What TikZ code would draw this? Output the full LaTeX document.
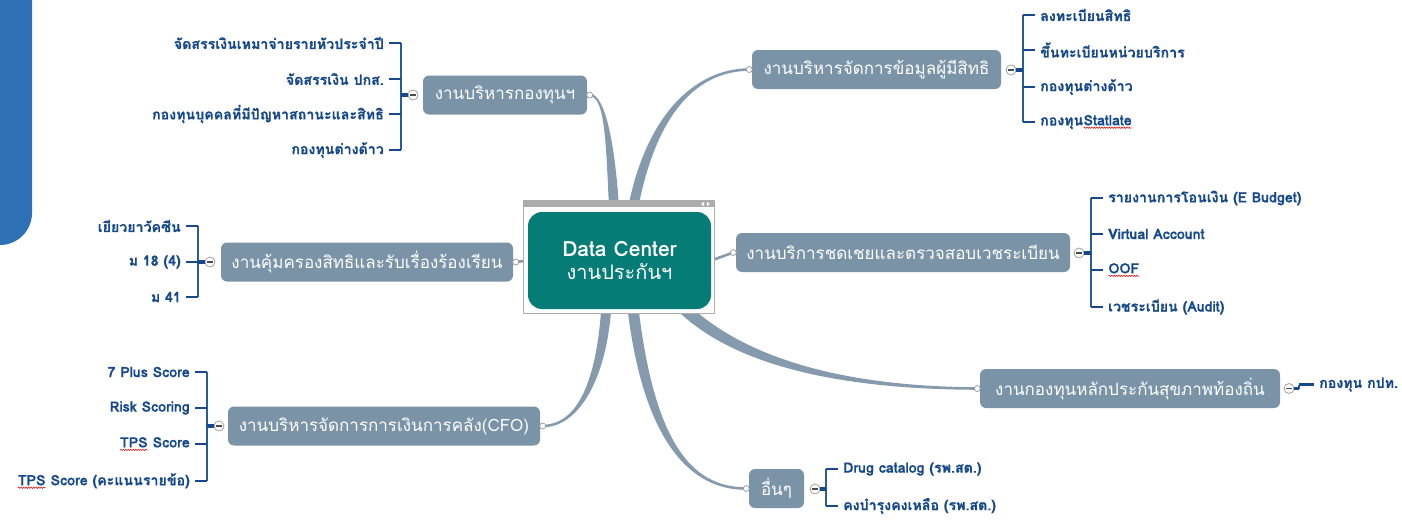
\documentclass[tikz,border=0pt]{standalone}
\usepackage{fontspec}
\setmainfont[Script=Thai]{Loma}
\newfontfamily\childfont[Script=Thai,FakeBold=0.6]{Loma}
\usetikzlibrary{calc,decorations.pathmorphing}
\pgfdeclarelayer{bg}\pgfdeclarelayer{mid}
\pgfsetlayers{bg,mid,main}
\definecolor{sideblue}{RGB}{46,112,182}
\definecolor{tealc}{RGB}{6,124,118}
\definecolor{branchfill}{RGB}{123,147,166}
\definecolor{linkcol}{RGB}{133,155,173}
\definecolor{childblue}{RGB}{22,72,140}
\definecolor{bracketblue}{RGB}{40,92,158}
\definecolor{framegrey}{RGB}{172,172,172}
\newcommand\sqw[1]{\tikz[baseline=(w.base)]{\node[inner sep=0pt,outer sep=0pt,anchor=base] (w) {#1};\draw[red!85!black,line width=0.5pt,decorate,decoration={snake,amplitude=0.7pt,segment length=2.5pt}] ([yshift=-2.5pt]w.base west) -- ([yshift=-2.5pt]w.base east);}}
\newcommand\taper[6]{%
 \begin{pgfonlayer}{bg}
 \path #1 coordinate (tA) #2 coordinate (tC) #3 coordinate (tD) #4 coordinate (tB);
 \path ($(tA)!#5!90:(tC)$) coordinate (tA1) ($(tA)!#5!-90:(tC)$) coordinate (tA2)
       ($(tB)!#6!-90:(tD)$) coordinate (tB1) ($(tB)!#6!90:(tD)$) coordinate (tB2);
 \fill[linkcol] (tA1) .. controls ($(tC)+(tA1)-(tA)$) and ($(tD)+(tB1)-(tB)$) .. (tB1) -- (tB2) .. controls ($(tD)+(tB2)-(tB)$) and ($(tC)+(tA2)-(tA)$) .. (tA2) -- cycle;
 \end{pgfonlayer}}
\tikzset{
 branch/.style={fill=branchfill, rounded corners=6pt, text=white, font=\fontsize{17}{19}\selectfont, minimum height=39pt, inner xsep=0pt},
 childl/.style={text=childblue, font=\childfont\bfseries\fontsize{14.2}{16}\selectfont, inner xsep=5pt, inner ysep=1pt, anchor=east},
 childr/.style={childl, anchor=west},
 collapse/.style={circle, draw=gray!75, fill=white, minimum size=10pt, inner sep=0pt, line width=0.8pt,
   path picture={\draw[black!70,line width=1.1pt] ([xshift=-2.6pt]path picture bounding box.center) -- ([xshift=2.6pt]path picture bounding box.center);}},
 dot/.style={circle, draw=gray!75, fill=white, minimum size=6pt, inner sep=0pt, line width=0.8pt},
 bracket/.style={draw=bracketblue, line width=1.6pt},
 cdash/.style={draw=childblue, line width=2.6pt},
 stem/.style={draw=childblue, line width=3.5pt},
 straightlink/.style={draw=linkcol, line width=2.6pt},
}
\begin{document}
\begin{tikzpicture}[x=1pt,y=-1pt]
\useasboundingbox (0,0) rectangle (1402,520);
% left blue tab
\fill[sideblue, rounded corners=32pt] (-60,-60) rectangle (32,245);

% centre
\node[fill=tealc, rounded corners=14pt, minimum width=183pt, minimum height=97pt, text=white, align=center, inner sep=0pt] (dc) at (619.5,260.5)
  {{\bfseries\fontsize{21}{26}\selectfont Data Center}\\[5pt]{\fontsize{20}{24}\selectfont งานประกันฯ}};
\begin{pgfonlayer}{mid}
\draw[framegrey, fill=white, line width=1.3pt] ($(dc.north west)+(-4,-11)$) rectangle ($(dc.south east)+(3,4)$);
\fill[framegrey] ($(dc.north west)+(-4,-11)$) rectangle ($(dc.north east)+(3,-5)$);
\fill[white] (701,204) -- (704,201.8) -- (704,206.2) -- cycle;
\fill[white] (710,204) -- (707,201.8) -- (707,206.2) -- cycle;
\end{pgfonlayer}

% branch nodes
\node[branch, minimum width=164pt] (n1) at (505,95) {งานบริหารกองทุนฯ};
\node[branch, minimum width=249pt] (n2) at (876.5,69.5) {งานบริหารจัดการข้อมูลผู้มีสิทธิ};
\node[branch, minimum width=334pt] (n3) at (903,252.5) {งานบริการชดเชยและตรวจสอบเวชระเบียน};
\node[branch, minimum width=292pt] (n4) at (367,262) {งานคุ้มครองสิทธิและรับเรื่องร้องเรียน};
\node[branch, minimum width=312pt] (n5) at (384,426) {งานบริหารจัดการการเงินการคลัง(CFO)};
\node[branch, minimum width=300pt] (n6) at (1130,388.5) {งานกองทุนหลักประกันสุขภาพท้องถิ่น};
\node[branch, minimum width=55pt] (n7) at (776.5,488.5) {อื่นๆ};

% connection dots
\node[dot] (d1) at ($(n1.east)+(2.5,0)$) {};
\node[dot] (d2) at ($(n2.west)+(-2.5,0)$) {};
\node[dot] (d3) at ($(n3.west)+(-2.5,0)$) {};
\node[dot] (d4) at ($(n4.east)+(2.5,0)$) {};
\node[dot] (d5) at ($(n5.east)+(2.5,0)$) {};
\node[dot] (d6) at ($(n6.west)+(-2.5,0)$) {};
\node[dot] (d7) at ($(n7.west)+(-2.5,0)$) {};

% connectors
\taper{($(dc.north)+(-5,5)$)}{(611,150)}{(606,95)}{(d1.center)}{5pt}{1.3pt}
\taper{($(dc.north)+(12,5)$)}{(648,120)}{(692,70)}{(d2.center)}{5pt}{1.3pt}
\taper{($(dc.south)+(-13,-5)$)}{(602,380)}{(578,426)}{(d5.center)}{5pt}{1.3pt}
\taper{($(dc.south)+(13,-5)$)}{(648,440)}{(690,489)}{(d7.center)}{5.5pt}{1.3pt}
\taper{($(dc.south)+(60,-5)$)}{(740,365)}{(850,388)}{(d6.center)}{6pt}{1.3pt}
\begin{pgfonlayer}{bg}
\draw[straightlink] (dc.east) -- (d3.center);
\draw[straightlink] (dc.west) -- (d4.center);
\end{pgfonlayer}

% group 1
\node[collapse] (m1) at (413,95) {};
\coordinate (b1) at (401,95);
\node[childl] (c11) at (389,43) {จัดสรรเงินเหมาจ่ายรายหัวประจำปี};
\node[childl] (c12) at (389,79) {จัดสรรเงิน ปกส.};
\node[childl] (c13) at (389,114) {กองทุนบุคคลที่มีปัญหาสถานะและสิทธิ};
\node[childl] (c14) at (389,150) {กองทุนต่างด้าว};
\draw[bracket] (c11.east -| b1) -- (c14.east -| b1);
\foreach \c in {c11,c12,c13,c14} \draw[cdash] (\c.east) -- (\c.east -| b1);
\draw[stem] (b1) -- (m1.west);

% group 2
\node[collapse] (m2) at (1011,70) {};
\coordinate (b2) at (1023,70);
\node[childr] (c21) at (1035,15) {ลงทะเบียนสิทธิ};
\node[childr] (c22) at (1035,50) {ขึ้นทะเบียนหน่วยบริการ};
\node[childr] (c23) at (1035,87) {กองทุนต่างด้าว};
\node[childr] (c24) at (1035,122) {กองทุน\sqw{Statlate}};
\draw[bracket] (c21.west -| b2) -- (c24.west -| b2);
\foreach \c in {c21,c22,c23,c24} \draw[cdash] (\c.west) -- (\c.west -| b2);
\draw[stem] (b2) -- (m2.east);

% group 3
\node[collapse] (m3) at (1079,253) {};
\coordinate (b3) at (1091,253);
\node[childr] (c31) at (1103,198) {รายงานการโอนเงิน (E Budget)};
\node[childr] (c32) at (1103,234) {Virtual Account};
\node[childr] (c33) at (1103,270) {\sqw{OOF}};
\node[childr] (c34) at (1103,307) {เวชระเบียน (Audit)};
\draw[bracket] (c31.west -| b3) -- (c34.west -| b3);
\foreach \c in {c31,c32,c33,c34} \draw[cdash] (\c.west) -- (\c.west -| b3);
\draw[stem] (b3) -- (m3.east);

% group 4
\node[collapse] (m4) at (210,262) {};
\coordinate (b4) at (198,262);
\node[childl] (c41) at (186,226) {เยียวยาวัคซีน};
\node[childl] (c42) at (186,262) {ม 18 (4)};
\node[childl] (c43) at (186,297) {ม 41};
\draw[bracket] (c41.east -| b4) -- (c43.east -| b4);
\foreach \c in {c41,c42,c43} \draw[cdash] (\c.east) -- (\c.east -| b4);
\draw[stem] (b4) -- (m4.west);

% group 5
\node[collapse] (m5) at (219,426) {};
\coordinate (b5) at (207,426);
\node[childl] (c51) at (195,372) {7 Plus Score};
\node[childl] (c52) at (195,408) {Risk Scoring};
\node[childl] (c53) at (195,444) {\sqw{TPS} Score};
\node[childl] (c54) at (195,481) {\sqw{TPS} Score (คะแนนรายข้อ)};
\draw[bracket] (c51.east -| b5) -- (c54.east -| b5);
\foreach \c in {c51,c52,c53,c54} \draw[cdash] (\c.east) -- (\c.east -| b5);
\draw[stem] (b5) -- (m5.west);

% group 6
\node[collapse] (m6) at (1289,388.5) {};
\coordinate (b6) at (1299,388.5);
\node[childr] (c61) at (1314,384.5) {กองทุน กปท.};
\draw[bracket] (b6) -- (c61.west -| b6);
\draw[cdash] (c61.west) -- (c61.west -| b6);
\draw[stem] (b6) -- (m6.east);

% group 7
\node[collapse] (m7) at (815,489) {};
\coordinate (b7) at (826,489);
\node[childr] (c71) at (838,469) {Drug catalog (รพ.สต.)};
\node[childr] (c72) at (838,506) {คงบำรุงคงเหลือ (รพ.สต.)};
\draw[bracket] (c71.west -| b7) -- (c72.west -| b7);
\foreach \c in {c71,c72} \draw[cdash] (\c.west) -- (\c.west -| b7);
\draw[stem] (b7) -- (m7.east);
\end{tikzpicture}
\end{document}
